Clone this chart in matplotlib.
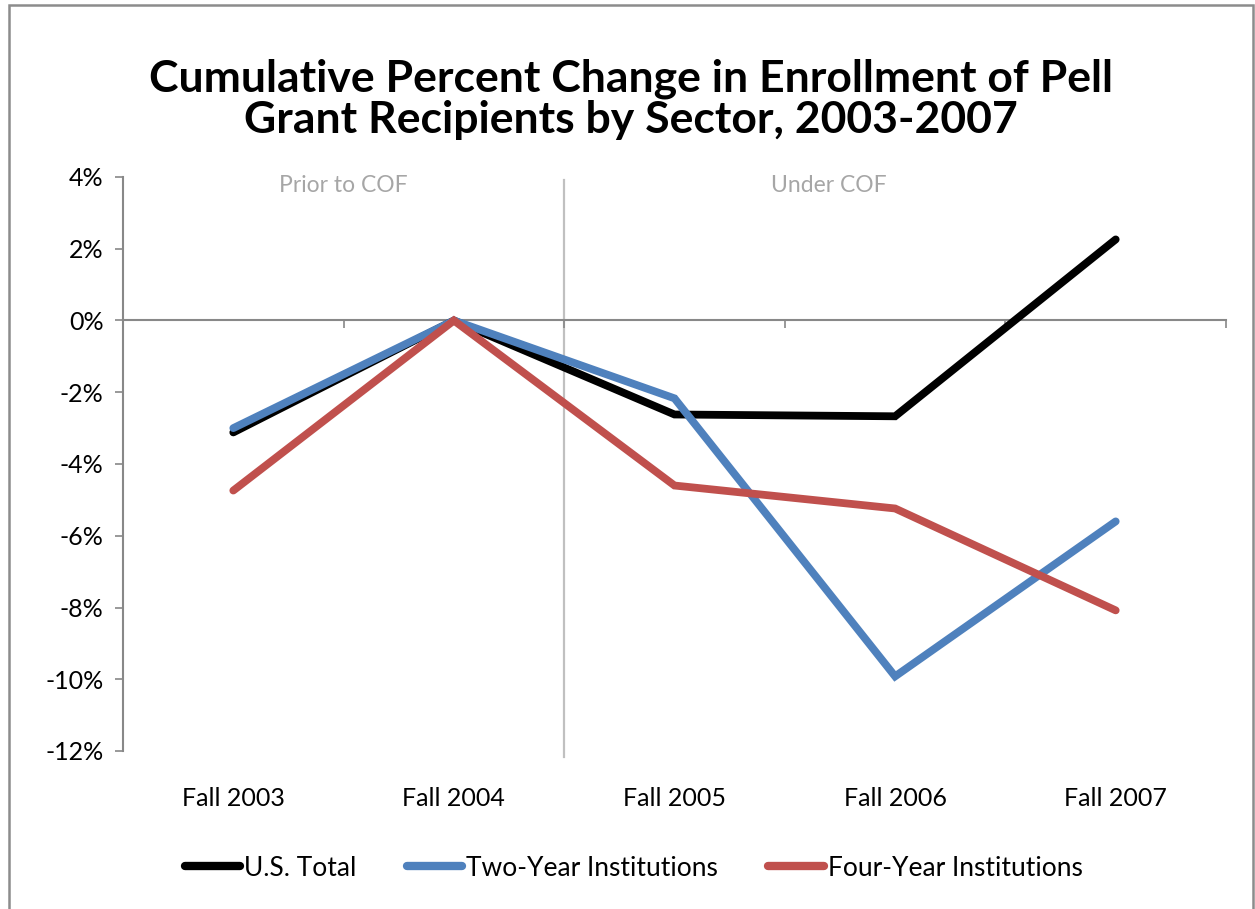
import matplotlib
matplotlib.use("Agg")
import matplotlib.pyplot as plt
from matplotlib.transforms import blended_transform_factory
from matplotlib.patches import Rectangle
from matplotlib.lines import Line2D

plt.rcParams['font.family'] = ['Lato', 'DejaVu Sans']

categories = ["Fall 2003", "Fall 2004", "Fall 2005", "Fall 2006", "Fall 2007"]
us_total = [-3.12, 0.0, -2.62, -2.67, 2.26]
two_year = [-3.0, 0.0, -2.17, -9.92, -5.6]
four_year = [-4.74, 0.0, -4.6, -5.24, -8.08]
series_names = ["U.S. Total", "Two-Year Institutions", "Four-Year Institutions"]
series_colors = ["#000000", "#4f81bd", "#c0504d"]
y_ticks = [4, 2, 0, -2, -4, -6, -8, -10, -12]

fig = plt.figure(figsize=(12.55, 9.09), dpi=100)
ax = fig.add_axes([123/1255, 1-751/909, (1226-123)/1255, (751-177)/909])

x = list(range(len(categories)))
for vals, name, col in zip([us_total, two_year, four_year], series_names, series_colors):
    ax.plot(x, vals, color=col, lw=5.6, solid_capstyle='round', solid_joinstyle='miter', label=name, zorder=3)

ax.set_xlim(-0.5, 4.5)
ax.set_ylim(-12, 4)
ax.set_yticks(y_ticks)
ax.set_yticklabels([f"{v}%" for v in y_ticks], fontsize=18)
ax.tick_params(axis='y', direction='out', length=6, color='#888888', width=1.2, pad=8)

for s in ['top', 'right']:
    ax.spines[s].set_visible(False)
ax.spines['left'].set_color('#888888')
ax.spines['left'].set_linewidth(1.5)
ax.spines['bottom'].set_position(('data', 0))
ax.spines['bottom'].set_color('#888888')
ax.spines['bottom'].set_linewidth(1.5)
ax.set_xticks([i - 0.5 for i in range(len(categories) + 1)])
ax.set_xticklabels([])
ax.tick_params(axis='x', direction='out', length=6, color='#888888', width=1.2)

trans = blended_transform_factory(ax.transData, ax.transAxes)
for i, c in enumerate(categories):
    ax.text(i, -0.082, c, transform=trans, ha='center', va='center', fontsize=18)

# divider line between periods
ax.plot([1.5, 1.5], [-0.0105, 0.995], transform=trans, color='#c0c0c0', lw=1.6, clip_on=False, zorder=1)
ax.text(0.5, 0.985, "Prior to COF", transform=trans, ha='center', va='center', fontsize=16.5, color='#a6a6a6')
ax.text(2.7, 0.985, "Under COF", transform=trans, ha='center', va='center', fontsize=16.5, color='#a6a6a6')

fig.text(0.503, 1-99/909, "Cumulative Percent Change in Enrollment of Pell\nGrant Recipients by Sector, 2003-2007",
         ha='center', va='center', fontsize=32, fontweight='bold', linespacing=1.03)

handles = [Line2D([0], [0], color=c, lw=6, solid_capstyle='round') for c in series_colors]
fig.legend(handles, series_names, loc='center', bbox_to_anchor=(0.505, 1-868/909), ncol=3, frameon=False,
           fontsize=19, handlelength=2.1, handletextpad=0.15, columnspacing=1.9)

fig.patches.append(Rectangle((9/1255, -0.05), (1253-9)/1255, 1.05 - 5/909, transform=fig.transFigure,
                             fill=False, edgecolor='#8c8c8c', lw=1.8))

fig.savefig("out.png", dpi=100)
